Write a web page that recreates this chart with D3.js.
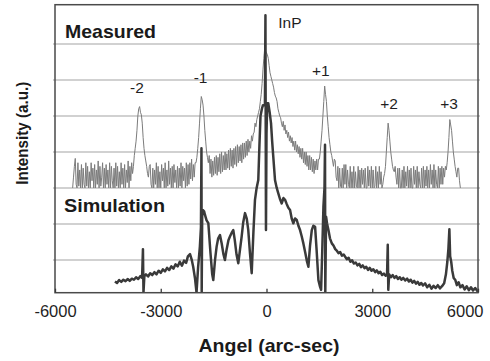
<!DOCTYPE html>
<html>
<head>
<meta charset="utf-8">
<script src="https://cdn.jsdelivr.net/npm/d3@7"></script>
<style>
  html, body { margin: 0; padding: 0; background: #fff; }
  svg { display: block; font-family: "Liberation Sans", Arial, Helvetica, sans-serif; }
</style>
</head>
<body>
<svg id="chart" width="490" height="361"></svg>
<script>
// ---- data -------------------------------------------------------------
// Measured rocking curve: log intensity (a.u.) on a uniform 25 arc-sec scan grid
const measuredStart = -5500;
const measuredStep = 25;
const measuredValues = [
  3.0, 3.3, 3.6, 3.82, 3.1, 3.0, 3.7, 3.05, 3.5, 3.0,
  3.65, 3.0, 3.55, 3.1, 3.0, 3.7, 3.05, 3.6, 3.0, 3.45,
  3.0, 3.7, 3.2, 3.55, 3.0, 3.65, 3.0, 3.5, 3.1, 3.75,
  3.0, 3.6, 3.05, 3.3, 3.7, 3.0, 3.55, 3.0, 3.65, 3.1,
  3.5, 3.0, 3.7, 3.0, 3.6, 3.2, 3.0, 3.55, 3.0, 3.7,
  3.05, 3.6, 3.0, 3.45, 3.0, 3.7, 3.1, 3.55, 3.0, 3.65,
  3.0, 3.5, 3.15, 3.75, 3.0, 3.6, 3.2, 3.7, 3.4, 3.6,
  3.9, 4.1, 4.3, 4.6, 5.0, 5.2, 5.26, 5.1, 5.03, 4.8,
  4.4, 4.1, 3.9, 3.75, 3.6, 3.4, 3.3, 3.6, 3.65, 3.1,
  3.0, 3.55, 3.0, 3.5, 3.1, 3.7, 3.0, 3.6, 3.0, 3.45,
  3.0, 3.65, 3.2, 3.55, 3.0, 3.7, 3.0, 3.5, 3.05, 3.75,
  3.1, 3.55, 3.0, 3.6, 3.0, 3.65, 3.15, 3.5, 3.0, 3.6,
  3.0, 3.55, 3.05, 3.7, 3.0, 3.6, 3.2, 3.55, 3.0, 3.7,
  3.05, 3.65, 3.1, 3.7, 3.25, 3.8, 3.2, 3.65, 3.3, 3.7,
  3.7, 3.85, 4.1, 4.4, 4.8, 5.2, 5.54, 5.45, 5.3, 5.0,
  4.6, 4.3, 4.0, 3.85, 3.7, 3.9, 3.4, 3.8, 3.3, 3.75,
  3.35, 3.85, 3.4, 3.9, 3.35, 3.85, 3.45, 3.95, 3.4, 4.0,
  3.45, 3.9, 3.5, 4.0, 3.5, 3.95, 3.55, 4.05, 3.5, 4.1,
  3.6, 4.05, 3.55, 4.1, 3.65, 4.15, 3.6, 4.2, 3.7, 4.15,
  3.75, 4.2, 3.7, 4.25, 3.8, 4.25, 3.85, 4.3, 3.9, 4.35,
  4.0, 4.3, 4.1, 4.45, 4.3, 4.5, 4.55, 4.8, 4.7, 4.9,
  5.0, 5.1, 5.2, 5.4, 5.6, 5.9, 6.3, 6.6, 6.9, 6.8,
  6.75, 6.7, 6.6, 6.4, 6.2, 6.1, 6.0, 5.9, 5.8, 5.65,
  5.55, 5.5, 5.4, 5.2, 5.1, 5.0, 4.95, 4.8, 4.7, 4.85,
  4.6, 4.75, 4.5, 4.6, 4.4, 4.55, 4.3, 4.45, 4.25, 4.4,
  4.15, 4.3, 4.05, 4.3, 4.0, 4.2, 3.95, 4.15, 3.85, 4.1,
  3.8, 4.1, 3.7, 4.0, 3.65, 4.0, 3.6, 3.9, 3.5, 3.9,
  3.5, 3.85, 3.45, 3.8, 3.4, 3.75, 3.5, 3.8, 3.5, 3.8,
  3.8, 4.0, 4.3, 4.6, 5.0, 5.4, 5.83, 5.6, 5.4, 5.0,
  4.7, 4.4, 4.2, 4.0, 3.9, 3.75, 3.6, 3.8, 3.75, 3.3,
  3.2, 3.6, 3.0, 3.55, 3.05, 3.0, 3.55, 3.0, 3.65, 3.1,
  3.65, 3.0, 3.5, 3.1, 3.0, 3.6, 3.0, 3.45, 3.0, 3.6,
  3.0, 3.45, 3.05, 3.0, 3.6, 3.0, 3.5, 3.0, 3.55, 3.1,
  3.5, 3.0, 3.55, 3.0, 3.0, 3.6, 3.05, 3.5, 3.0, 3.6,
  3.0, 3.5, 3.0, 3.05, 3.6, 3.0, 3.45, 3.0, 3.6, 3.1,
  3.45, 3.0, 3.1, 3.3, 3.4, 3.6, 4.0, 4.4, 4.8, 4.6,
  4.3, 4.0, 3.8, 3.6, 3.5, 3.45, 3.6, 3.3, 3.1, 3.55,
  3.0, 3.55, 3.0, 3.0, 3.5, 3.0, 3.6, 3.0, 3.45, 3.05,
  3.6, 3.0, 3.5, 3.0, 3.55, 3.0, 3.0, 3.6, 3.1, 3.5,
  3.0, 3.6, 3.0, 3.45, 3.1, 3.0, 3.55, 3.0, 3.6, 3.0,
  3.5, 3.05, 3.6, 3.0, 3.5, 3.0, 3.65, 3.1, 3.5, 3.0,
  3.65, 3.0, 3.5, 3.1, 3.0, 3.6, 3.0, 3.55, 3.1, 3.6,
  3.1, 3.55, 3.3, 3.6, 3.5, 3.7, 4.0, 4.4, 4.9, 4.75,
  4.6, 4.3, 4.0, 3.8, 3.6, 3.45, 3.3, 3.55, 3.55, 3.2,
  3.0
];

// Simulated curve: angle (arc-sec) and log intensity (a.u.)
const simAngles = [
  -4300, -4240, -4180, -4120, -4060, -4000, -3940, -3880, -3820, -3760,
  -3700, -3640, -3580, -3530, -3505, -3490, -3465, -3420, -3360, -3300,
  -3240, -3180, -3120, -3060, -3000, -2940, -2880, -2820, -2760, -2700,
  -2640, -2580, -2520, -2460, -2400, -2340, -2280, -2230, -2170, -2120,
  -2080, -2030, -1985, -1940, -1890, -1860, -1845, -1838, -1825, -1810,
  -1770, -1745, -1700, -1650, -1590, -1540, -1510, -1460, -1415, -1370,
  -1320, -1270, -1220, -1180, -1130, -1080, -1037, -990, -943, -900,
  -850, -800, -750, -705, -660, -610, -560, -517, -470, -420,
  -370, -327, -280, -233, -200, -170, -130, -100, -45, -30,
  -15, 0, 20, 51, 90, 128, 160, 190, 241, 290,
  335, 380, 432, 480, 526, 575, 620, 668, 715, 762,
  810, 858, 905, 952, 1000, 1046, 1100, 1150, 1188, 1235,
  1285, 1330, 1379, 1420, 1473, 1520, 1549, 1580, 1615, 1645,
  1660, 1668, 1690, 1720, 1757, 1800, 1853, 1900, 1950, 2000,
  2041, 2090, 2140, 2190, 2232, 2280, 2330, 2380, 2430, 2480,
  2530, 2580, 2630, 2680, 2730, 2780, 2830, 2880, 2930, 2980,
  3030, 3083, 3130, 3180, 3230, 3280, 3330, 3380, 3420, 3440,
  3455, 3480, 3530, 3580, 3630, 3680, 3730, 3780, 3830, 3880,
  3937, 3990, 4040, 4090, 4140, 4190, 4240, 4290, 4340, 4390,
  4440, 4500, 4560, 4620, 4680, 4740, 4800, 4860, 4920, 4980,
  5040, 5090, 5130, 5160, 5188, 5210, 5240, 5270, 5310, 5357,
  5400, 5450, 5500, 5560, 5620, 5680, 5740, 5800, 5860, 5920,
  5980, 6000
];
const simValues = [
  0.40, 0.36, 0.44, 0.39, 0.45, 0.41, 0.47, 0.42, 0.48, 0.45,
  0.52, 0.47, 0.55, 0.50, 1.30, 0.09, 0.55, 0.60, 0.54, 0.63,
  0.58, 0.66, 0.60, 0.70, 0.64, 0.74, 0.68, 0.78, 0.72, 0.82,
  0.76, 0.88, 0.82, 0.95, 0.84, 0.98, 0.92, 1.10, 1.16, 1.00,
  0.81, 0.50, 0.09, 0.80, 1.37, 1.90, 4.10, 0.12, 2.20, 2.39,
  2.35, 2.25, 2.10, 2.02, 1.20, 0.60, 0.44, 1.00, 1.37, 1.60,
  1.69, 1.45, 1.15, 1.00, 1.30, 1.55, 1.65, 1.75, 1.83, 1.55,
  1.15, 0.91, 1.30, 1.65, 2.05, 2.30, 2.15, 1.83, 1.20, 0.63,
  1.80, 2.67, 3.00, 3.22, 4.20, 5.00, 5.20, 5.30, 5.30, 7.80,
  1.83, 4.50, 5.35, 5.35, 5.10, 4.80, 4.30, 3.90, 3.22, 3.00,
  2.85, 2.70, 2.57, 2.72, 2.67, 2.55, 2.45, 2.39, 2.15, 2.02,
  2.15, 2.11, 1.95, 1.83, 1.65, 1.46, 1.20, 0.95, 0.81, 1.40,
  1.83, 1.95, 1.92, 1.30, 0.44, 0.25, 0.17, 1.20, 2.48, 3.00,
  4.20, 0.09, 2.20, 2.00, 1.83, 1.60, 1.46, 1.40, 1.30, 1.25,
  1.19, 1.22, 1.12, 1.15, 1.09, 1.02, 1.06, 0.95, 0.99, 0.90,
  0.93, 0.85, 0.89, 0.80, 0.85, 0.77, 0.81, 0.72, 0.78, 0.70,
  0.74, 0.66, 0.71, 0.63, 0.67, 0.58, 0.62, 0.56, 0.60, 1.42,
  0.17, 0.60, 0.52, 0.58, 0.50, 0.55, 0.47, 0.52, 0.45, 0.50,
  0.43, 0.48, 0.40, 0.45, 0.37, 0.42, 0.34, 0.39, 0.31, 0.36,
  0.29, 0.35, 0.24, 0.31, 0.20, 0.28, 0.22, 0.30, 0.21, 0.27,
  0.35, 0.60, 0.95, 1.30, 1.85, 1.10, 0.95, 0.70, 0.50, 0.44,
  0.30, 0.38, 0.24, 0.30, 0.18, 0.27, 0.16, 0.24, 0.15, 0.22,
  0.14, 0.17
];

const xTicks = [-6000, -3000, 0, 3000, 6000];
const gridLevels = [1, 2, 3, 4, 5, 6, 7];

// Peak labels: diffraction order, angle of the peak, label height (a.u.)
const peakLabels = ["-2", "-1", "InP", "+1", "+2", "+3"];
const peakLabelAngles = [-3675, -1870, 335, 1540, 3475, 5180];
const peakLabelLevels = [5.63, 5.92, 7.44, 6.1, 5.19, 5.19];

// ---- layout -----------------------------------------------------------
const svg = d3.select("#chart");
const plotLeft = 55, plotRight = 478, plotTop = 4.7, plotBottom = 292.7;

const x = d3.scaleLinear().domain([-6000, 6000]).range([plotLeft, plotRight]);
const y = d3.scaleLinear().domain([0.09, 8.09]).range([plotBottom, plotTop]);

svg.append("defs").append("clipPath").attr("id", "plot-clip")
  .append("rect").attr("x", plotLeft).attr("y", plotTop)
  .attr("width", plotRight - plotLeft).attr("height", plotBottom - plotTop);

// horizontal grid
svg.append("g").selectAll("line").data(gridLevels).join("line")
  .attr("x1", plotLeft - 2).attr("x2", plotRight + 2)
  .attr("y1", d => y(d)).attr("y2", d => y(d))
  .attr("stroke", "#c2c2c2").attr("stroke-width", 1.6);

const plot = svg.append("g").attr("clip-path", "url(#plot-clip)");

const measured = measuredValues.map((v, i) => [measuredStart + i * measuredStep, v]);
const simulated = simAngles.map((a, i) => [a, simValues[i]]);

const line = d3.line().x(d => x(d[0])).y(d => y(d[1]));

plot.append("path").datum(measured)
  .attr("d", line)
  .attr("fill", "none").attr("stroke", "#7c7c7c").attr("stroke-width", 1)
  .attr("stroke-linejoin", "miter");

plot.append("path").datum(simulated)
  .attr("d", line)
  .attr("fill", "none").attr("stroke", "#3a3a3a").attr("stroke-width", 2.5)
  .attr("stroke-linejoin", "round");

// frame
svg.append("rect")
  .attr("x", plotLeft).attr("y", plotTop)
  .attr("width", plotRight - plotLeft).attr("height", plotBottom - plotTop)
  .attr("fill", "none").attr("stroke", "#4a4a4a").attr("stroke-width", 1.5);

// x axis with inward ticks
const xAxis = d3.axisBottom(x).tickValues(xTicks)
  .tickSizeInner(-4).tickSizeOuter(0).tickPadding(0)
  .tickFormat(d => String(d));
const gx = svg.append("g").attr("transform", `translate(0,${plotBottom})`).call(xAxis);
gx.select(".domain").remove();
gx.selectAll(".tick line").attr("stroke", "#3a3a3a").attr("stroke-width", 1.3);
gx.selectAll(".tick text")
  .attr("y", 24).attr("dy", null)
  .attr("fill", "#1f1f1f")
  .style("font-size", "16.5px")
  .attr("font-family", null);
gx.selectAll(".tick text").filter(d => d === 6000)
  .attr("text-anchor", "end").attr("x", 5);

// axis titles
svg.append("text")
  .attr("x", 198.5).attr("y", 351.5)
  .attr("textLength", 141).attr("lengthAdjust", "spacingAndGlyphs")
  .style("font-size", "18.5px").style("font-weight", "bold")
  .attr("fill", "#1a1a1a")
  .text("Angel (arc-sec)");

svg.append("text")
  .attr("transform", "translate(27.5,133.3) rotate(-90)")
  .attr("text-anchor", "middle")
  .attr("textLength", 103).attr("lengthAdjust", "spacingAndGlyphs")
  .style("font-size", "16px").style("font-weight", "bold")
  .attr("fill", "#1a1a1a")
  .text("Intensity (a.u.)");

// panel captions
svg.append("text")
  .attr("x", 65).attr("y", 38.3)
  .attr("textLength", 91).attr("lengthAdjust", "spacingAndGlyphs")
  .style("font-size", "18.5px").style("font-weight", "bold")
  .attr("fill", "#1a1a1a")
  .text("Measured");

svg.append("text")
  .attr("x", 64).attr("y", 212.3)
  .attr("textLength", 101).attr("lengthAdjust", "spacingAndGlyphs")
  .style("font-size", "18.5px").style("font-weight", "bold")
  .attr("fill", "#1a1a1a")
  .text("Simulation");

// peak labels
svg.append("g").selectAll("text").data(peakLabels).join("text")
  .attr("x", (d, i) => x(peakLabelAngles[i]))
  .attr("y", (d, i) => y(peakLabelLevels[i]))
  .attr("text-anchor", d => d === "InP" ? "start" : "middle")
  .style("font-size", "15.5px")
  .attr("fill", "#1f1f1f")
  .text(d => d);
</script>
</body>
</html>
